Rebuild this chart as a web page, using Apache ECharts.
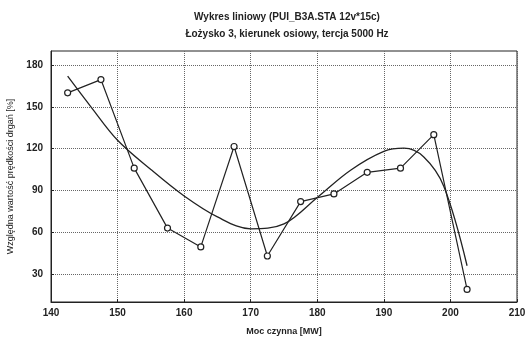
<!DOCTYPE html>
<html><head><meta charset="utf-8">
<script src="https://cdn.jsdelivr.net/npm/echarts@6/dist/echarts.min.js"></script>
<style>html,body{margin:0;padding:0;background:#fff}#c{width:528px;height:338px}</style>
</head><body><div id="c"></div>
<script>
const titleLine1 = 'Wykres liniowy (PUI_B3A.STA 12v*15c)';
const titleLine2 = 'Łożysko 3, kierunek osiowy, tercja 5000 Hz';
const xName = 'Moc czynna [MW]';
const yName = 'Względna wartość prędkości drgań [%]';
const xPower = [142.5,147.5,152.5,157.5,162.5,167.5,172.5,177.5,182.5,187.5,192.5,197.5,202.5];
const yValues = [160,169.5,106,63,49.5,121.5,43,82,87.5,103,106,130,19];
const trendX = [142.5,146,150,155,160,165,170,175,180,185,190,193,196,199,202.5];
const trendY = [172,150,126,105,86,71,62.5,66,85,104.5,118,120.3,114,93,36];
const yTicks = [30,60,90,120,150,180];

const font = 'Liberation Sans, Arial, sans-serif';
const chart = echarts.init(document.getElementById('c'), null, {renderer:'canvas'});
chart.setOption({
  animation:false,
  backgroundColor:'#fff',
  title:[
    {text:titleLine1, left:282, top:7, textAlign:'center', textStyle:{fontSize:10, fontWeight:'bold', color:'#222', fontFamily:font}},
    {text:titleLine2, left:282, top:24, textAlign:'center', textStyle:{fontSize:10, fontWeight:'bold', color:'#222', fontFamily:font}}
  ],
  grid:{left:51, right:11, top:51, bottom:36, show:true, borderColor:'#222', borderWidth:1, backgroundColor:'transparent', outerBoundsMode:'none', containLabel:false},
  xAxis:{
    type:'value', min:140, max:210, interval:10,
    name:xName, nameLocation:'middle', nameGap:25,
    nameTextStyle:{fontSize:9, fontWeight:'bold', color:'#222', fontFamily:font},
    axisLine:{show:true, onZero:false, lineStyle:{color:'#222'}},
    axisTick:{show:true, inside:true, length:3, lineStyle:{color:'#222'}},
    axisLabel:{fontSize:10, fontWeight:'bold', color:'#222', fontFamily:font, margin:6},
    splitLine:{show:true, lineStyle:{type:'dotted', color:'#666', width:1}}
  },
  yAxis:{
    type:'value', min:10, max:190,
    name:yName, nameLocation:'middle', nameGap:32, nameRotate:90,
    nameTextStyle:{fontSize:9, color:'#222', fontFamily:font},
    axisLine:{show:true, onZero:false, lineStyle:{color:'#222'}},
    axisTick:{show:true, inside:true, length:3, customValues:yTicks, lineStyle:{color:'#222'}},
    axisLabel:{fontSize:10, fontWeight:'bold', color:'#222', fontFamily:font, margin:8, customValues:yTicks},
    splitLine:{show:true, lineStyle:{type:'dotted', color:'#666', width:1}}
  },
  series:[
    {type:'line', data:xPower.map((x,i)=>[x,yValues[i]]), symbol:'circle', symbolSize:6,
     lineStyle:{color:'#222', width:1.2}, itemStyle:{color:'#fff', borderColor:'#222', borderWidth:1.2}, z:3},
    {type:'line', data:trendX.map((x,i)=>[x,trendY[i]]), symbol:'none', smooth:0.35,
     lineStyle:{color:'#222', width:1.3}, z:2}
  ]
});
</script></body></html>
